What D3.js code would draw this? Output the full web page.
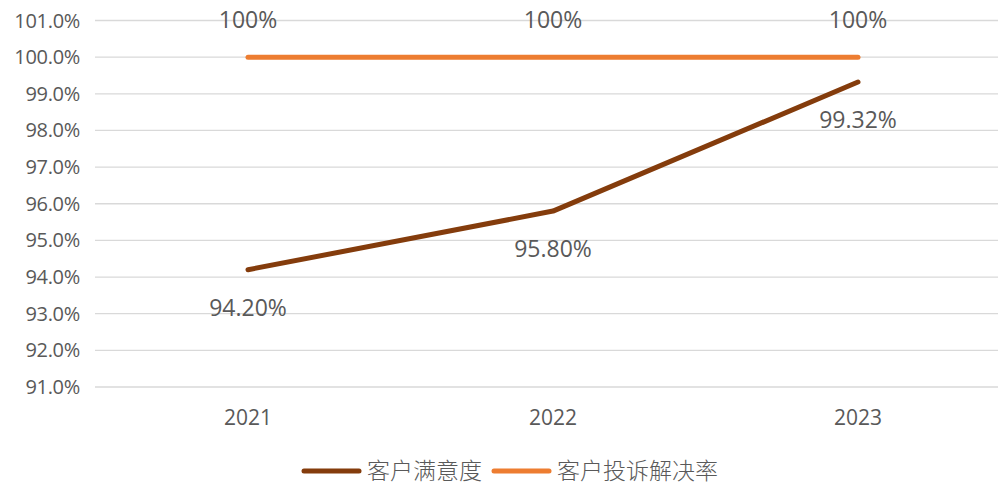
<!DOCTYPE html>
<html>
<head>
<meta charset="utf-8">
<script src="https://cdn.jsdelivr.net/npm/d3@7"></script>
<style>
  body { margin: 0; background: #fff; }
  text { font-family: "Noto Sans CJK SC", "Open Sans", sans-serif; fill: #595959; }
</style>
</head>
<body>
<script>
const years = ["2021", "2022", "2023"];
const satisfaction = [94.20, 95.80, 99.32];
const resolution = [100, 100, 100];
const satisfactionLabels = ["94.20%", "95.80%", "99.32%"];
const resolutionLabels = ["100%", "100%", "100%"];
const yTicks = [91, 92, 93, 94, 95, 96, 97, 98, 99, 100, 101];
const seriesNames = ["客户满意度", "客户投诉解决率"];
const colors = ["#843C0C", "#ED7D31"];

const width = 998, height = 486;
const svg = d3.select("body").append("svg")
  .attr("width", width)
  .attr("height", height);

const x = d3.scaleBand().domain(years).range([95.5, 1010.5]);
const y = d3.scaleLinear().domain([91, 101]).range([387, 20.5]);
const cx = d => x(d) + x.bandwidth() / 2;

// gridlines
svg.append("g")
  .selectAll("line")
  .data(yTicks)
  .enter().append("line")
  .attr("x1", 95).attr("x2", 998)
  .attr("y1", d => y(d)).attr("y2", d => y(d))
  .attr("stroke", "#d9d9d9")
  .attr("stroke-width", 1.3);

// y tick labels
svg.append("g")
  .selectAll("text")
  .data(yTicks)
  .enter().append("text")
  .attr("x", 80)
  .attr("y", d => y(d))
  .attr("dy", "0.35em")
  .attr("text-anchor", "end")
  .style("font-family", "'Open Sans', sans-serif")
  .style("font-size", "20px")
  .style("letter-spacing", "-0.3px")
  .text(d => d.toFixed(1) + "%");

// x labels
svg.append("g")
  .selectAll("text")
  .data(years)
  .enter().append("text")
  .attr("x", d => cx(d))
  .attr("y", 418)
  .attr("dy", "0.35em")
  .attr("text-anchor", "middle")
  .style("font-family", "'Open Sans', sans-serif")
  .style("font-size", "21px")
  .text(d => d);

const line = d3.line().x(d => cx(d[0])).y(d => y(d[1]));

const series = [satisfaction, resolution];
series.forEach((vals, i) => {
  svg.append("path")
    .datum(years.map((yr, j) => [yr, vals[j]]))
    .attr("d", line)
    .attr("fill", "none")
    .attr("stroke", colors[i])
    .attr("stroke-width", 5)
    .attr("stroke-linecap", "round")
    .attr("stroke-linejoin", "round");
});

// data labels
svg.append("g")
  .selectAll("text")
  .data(years)
  .enter().append("text")
  .attr("x", d => cx(d))
  .attr("y", (d, i) => y(satisfaction[i]) + 38)
  .attr("dy", "0.35em")
  .attr("text-anchor", "middle")
  .style("font-family", "'Open Sans', sans-serif")
  .style("font-size", "23px")
  .text((d, i) => satisfactionLabels[i]);

svg.append("g")
  .selectAll("text")
  .data(years)
  .enter().append("text")
  .attr("x", d => cx(d))
  .attr("y", (d, i) => y(resolution[i]) - 37)
  .attr("dy", "0.35em")
  .attr("text-anchor", "middle")
  .style("font-family", "'Open Sans', sans-serif")
  .style("font-size", "23px")
  .text((d, i) => resolutionLabels[i]);

// legend
const legendX = [302, 492];
const legend = svg.append("g")
  .selectAll("g")
  .data(seriesNames)
  .enter().append("g")
  .attr("transform", (d, i) => `translate(${legendX[i]},471)`);

legend.append("line")
  .attr("x1", 2).attr("x2", 57)
  .attr("stroke", (d, i) => colors[i])
  .attr("stroke-width", 5)
  .attr("stroke-linecap", "round");

legend.append("text")
  .attr("x", 65)
  .attr("dy", "0.35em")
  .style("font-size", "23px")
  .style("font-weight", "300")
  .text(d => d);
</script>
</body>
</html>
